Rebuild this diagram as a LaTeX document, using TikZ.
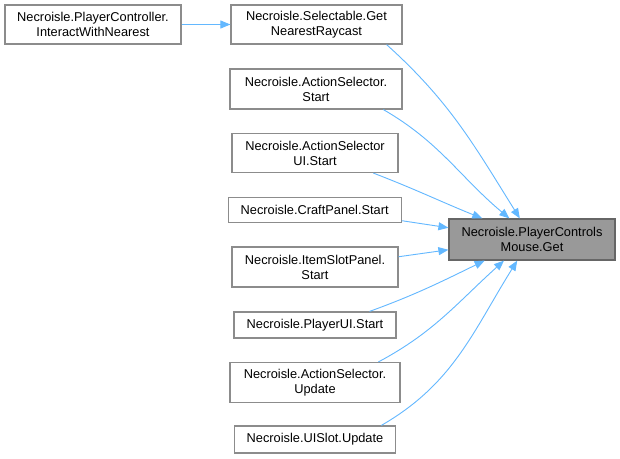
\documentclass[tikz,border=0pt]{standalone}
\usepackage{fontspec}
\setmainfont{Liberation Sans}
\usetikzlibrary{arrows.meta}
\definecolor{edgeblue}{HTML}{63B8FF}
\definecolor{boxline}{HTML}{8C8C8C}
\definecolor{getfill}{HTML}{999999}
\definecolor{getline}{HTML}{666666}
\begin{document}
\begin{tikzpicture}[x=1pt,y=-1pt,
  fn/.style={draw=boxline,line width=1.2pt,fill=white,inner sep=0pt,align=center,
    font=\fontsize{12.8}{15}\selectfont},
  cur/.style={fn,fill=getfill,draw=getline},
  call/.style={draw=edgeblue,line width=0.9pt,-{Triangle[length=10pt,width=8pt]}}]
\useasboundingbox (0,0) rectangle (620,458);
\fill[white] (0,0) rectangle (620,458);
\node[fn,minimum width=176pt,minimum height=39pt] (iwn) at (93,24.5) {Necroisle.PlayerController.\\InteractWithNearest};
\node[fn,minimum width=171pt,minimum height=39pt] (gnr) at (316.5,24.5) {Necroisle.Selectable.Get\\NearestRaycast};
\node[fn,minimum width=172pt,minimum height=40pt] (ass) at (316,89) {Necroisle.ActionSelector.\\Start};
\node[fn,minimum width=166pt,minimum height=39pt] (asui) at (315,153) {Necroisle.ActionSelector\\UI.Start};
\node[fn,minimum width=173pt,minimum height=25pt] (cps) at (314.7,210) {Necroisle.CraftPanel.Start};
\node[cur,minimum width=166pt,minimum height=41pt] (get) at (532,239.5) {Necroisle.PlayerControls\\Mouse.Get};
\node[fn,minimum width=166pt,minimum height=40pt] (isp) at (315,267) {Necroisle.ItemSlotPanel.\\Start};
\node[fn,minimum width=162pt,minimum height=26pt] (pui) at (315,325) {Necroisle.PlayerUI.Start};
\node[fn,minimum width=170pt,minimum height=40pt] (asu) at (315,382.5) {Necroisle.ActionSelector.\\Update};
\node[fn,minimum width=161pt,minimum height=27pt] (uis) at (315,439.5) {Necroisle.UISlot.Update};
\draw[call] (iwn) -- (gnr);
\draw[call] (gnr.-16.3) to[out=-42,in=122] (get.120.3);
\draw[call] (ass.-17.4) to[out=-30,in=140] (get.137);
\draw[call] (asui.-19.3) to[out=-21,in=158] (get.157.7);
\draw[call] (cps.-7.7) -- (get.172.8);
\draw[call] (isp.7.1) -- (get.187.9);
\draw[call] (pui.14.6) to[out=20,in=206] (get.204.5);
\draw[call] (asu.18.3) to[out=28,in=222] (get.217.2);
\draw[call] (uis.12.1) to[out=30,in=238] (get.235.6);
\end{tikzpicture}
\end{document}
